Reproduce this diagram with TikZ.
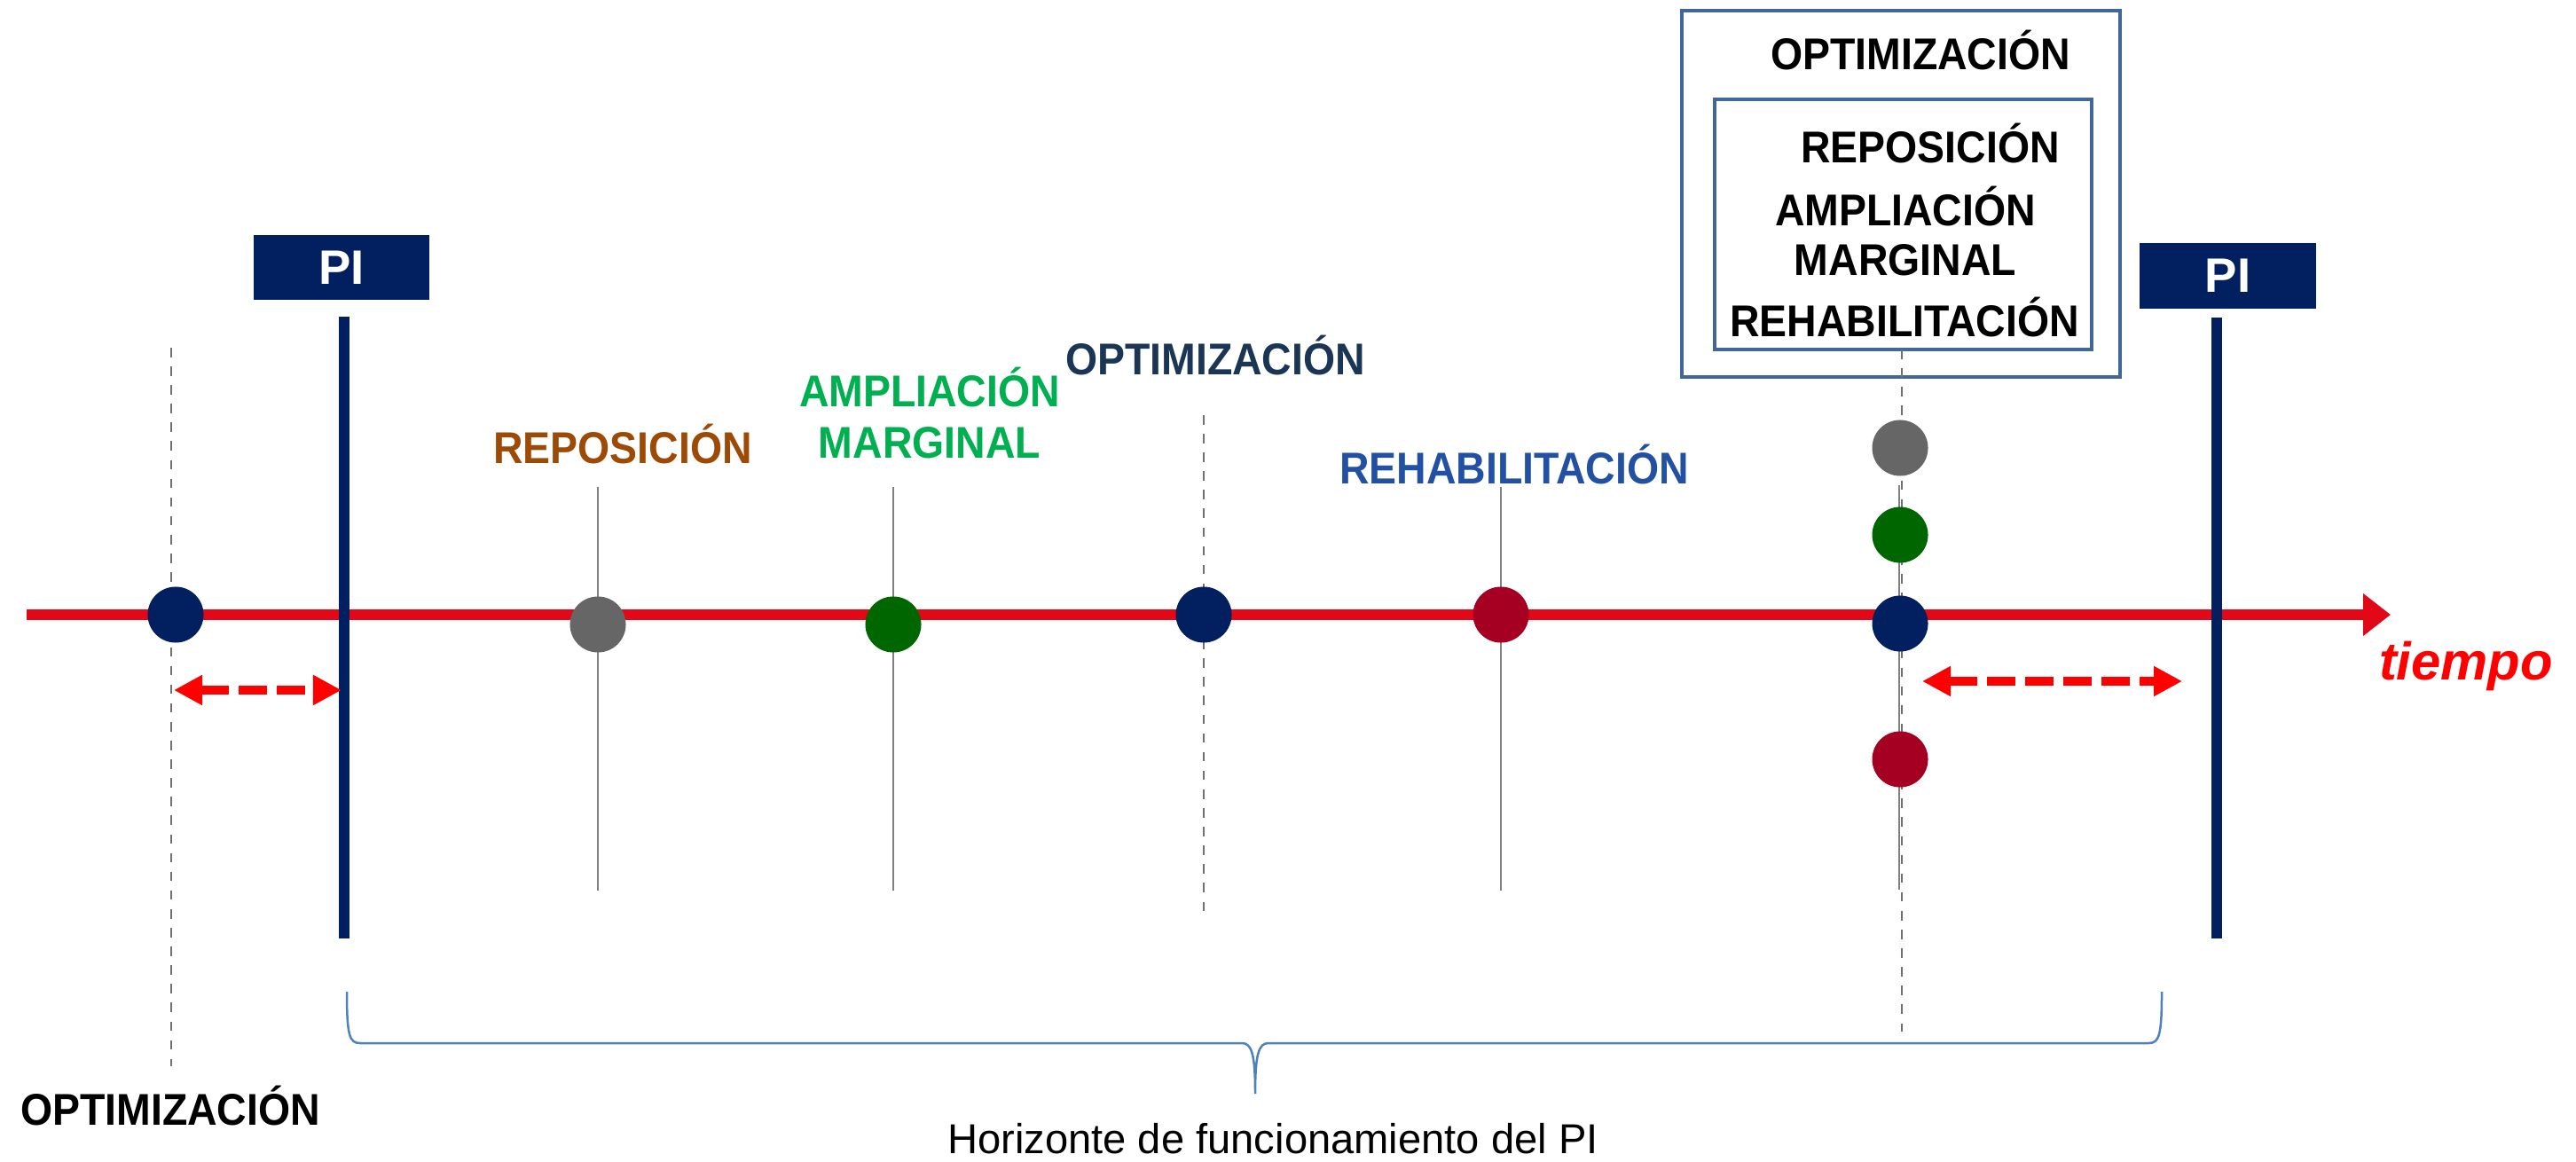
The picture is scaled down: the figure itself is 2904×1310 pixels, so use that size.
\documentclass[tikz,border=0pt]{standalone}
\usepackage{fontspec}
\setmainfont{Liberation Sans}
\usetikzlibrary{arrows.meta}
\definecolor{axisred}{RGB}{226,8,24}
\definecolor{navy}{RGB}{2,32,96}
\definecolor{dotgray}{RGB}{102,102,102}
\definecolor{dotgreen}{RGB}{0,102,0}
\definecolor{dotred}{RGB}{165,0,33}
\definecolor{txtbrown}{RGB}{156,74,6}
\definecolor{txtgreen}{RGB}{0,176,80}
\definecolor{txtnavy}{RGB}{27,54,84}
\definecolor{txtblue}{RGB}{34,80,162}
\definecolor{boxblue}{RGB}{65,103,154}
\definecolor{bracecol}{RGB}{79,129,189}
\definecolor{linegray}{RGB}{128,128,128}
\definecolor{dashgray}{RGB}{112,112,112}
\tikzset{
  lbl/.style={font=\fontsize{13.2pt}{15pt}\selectfont\bfseries, anchor=base, inner sep=0pt, yscale=1.08},
  dot/.style={circle, minimum size=0.63cm, inner sep=0pt},
  thinline/.style={draw=linegray, line width=0.02cm},
  dashline/.style={draw=dashgray, line width=0.02cm, dashed},
  pibox/.style={fill=navy, text=white, font=\fontsize{15.5pt}{18pt}\selectfont\bfseries, minimum width=1.98cm, minimum height=0.73cm, inner sep=0pt},
  piline/.style={draw=navy, line width=0.12cm},
  gaparrow/.style={draw=red, line width=0.1cm, dash pattern=on 0.32cm off 0.11cm, {Triangle[length=0.32cm,width=0.32cm]}-{Triangle[length=0.32cm,width=0.32cm]}},
  frame/.style={draw=boxblue, line width=0.04cm}
}
\begin{document}
\begin{tikzpicture}[x=0.01cm,y=-0.01cm]
\useasboundingbox (0,0) rectangle (2904,1310);

% outer and inner boxes
\draw[frame] (1896,12) rectangle (2390,425);
\draw[frame] (1933,112) rectangle (2358,394);
\node[lbl, text=black] (boxopt) at (2165,79) {OPTIMIZACIÓN};
\node[lbl, text=black] (boxrep) at (2176,184) {REPOSICIÓN};
\node[lbl, text=black] (boxamp) at (2148,255) {AMPLIACIÓN};
\node[lbl, text=black] (boxmar) at (2148,311) {MARGINAL};
\node[lbl, text=black] (boxreh) at (2147,380) {REHABILITACIÓN};

% vertical guide coordinates
\coordinate (l0t) at (193,392);   \coordinate (l0b) at (193,1202);
\coordinate (l1t) at (674,549);   \coordinate (l1b) at (674,1004);
\coordinate (l2t) at (1007,549);  \coordinate (l2b) at (1007,1004);
\coordinate (l3t) at (1357,468);  \coordinate (l3b) at (1357,1037);
\coordinate (l4t) at (1692,549);  \coordinate (l4b) at (1692,1004);
\coordinate (l5t) at (2144,394);  \coordinate (l5b) at (2144,1163);
\coordinate (l5st) at (2141,547); \coordinate (l5sb) at (2141,1003);

\draw[dashline] (l0t) -- (l0b);
\draw[thinline] (l1t) -- (l1b);
\draw[thinline] (l2t) -- (l2b);
\draw[dashline] (l3t) -- (l3b);
\draw[thinline] (l4t) -- (l4b);
\draw[thinline] (l5st) -- (l5sb);
\draw[dashline] (l5t) -- (l5b);

% time axis
\coordinate (axs) at (30,693);
\coordinate (axe) at (2695,693);
\draw[draw=axisred, line width=0.11cm, -{Triangle[length=0.31cm,width=0.46cm]}] (axs) -- (axe);
\node[font=\fontsize{17pt}{20pt}\selectfont\bfseries\itshape, text=red, anchor=base, inner sep=0pt] (tiempo) at (2780,767) {tiempo};

% PI boxes and lines
\node[pibox] (pi1) at (385,301.5) {PI};
\node[pibox] (pi2) at (2511.5,311) {PI};
\coordinate (p1t) at (388,357); \coordinate (p1b) at (388,1058);
\coordinate (p2t) at (2499,358); \coordinate (p2b) at (2499,1058);
\draw[piline] (p1t) -- (p1b);
\draw[piline] (p2t) -- (p2b);

% dots
\node[dot, fill=navy] (d0) at (198,693) {};
\node[dot, fill=dotgray] (d1) at (674,704) {};
\node[dot, fill=dotgreen] (d2) at (1007,704) {};
\node[dot, fill=navy] (d3) at (1357,693) {};
\node[dot, fill=dotred] (d4) at (1692,693) {};
\node[dot, fill=dotgray] (e1) at (2142,505) {};
\node[dot, fill=dotgreen] (e2) at (2142,603) {};
\node[dot, fill=navy] (e3) at (2142,703) {};
\node[dot, fill=dotred] (e4) at (2142,856) {};

% gap arrows
\coordinate (g1a) at (196,778); \coordinate (g1b) at (385,778);
\coordinate (g2a) at (2167,768); \coordinate (g2b) at (2460,768);
\draw[gaparrow] (g1a) -- (g1b);
\draw[gaparrow] (g2a) -- (g2b);

% labels
\node[lbl, text=txtbrown] (lrep) at (702,523) {REPOSICIÓN};
\node[lbl, text=txtgreen] (lamp) at (1048,459) {AMPLIACIÓN};
\node[lbl, text=txtgreen] (lmar) at (1048,517) {MARGINAL};
\node[lbl, text=txtnavy] (lopt) at (1370,423) {OPTIMIZACIÓN};
\node[lbl, text=txtblue] (lreh) at (1707,546) {REHABILITACIÓN};
\node[lbl, text=black] (lopt0) at (192,1268) {OPTIMIZACIÓN};

% brace
\coordinate (bl) at (391,1118);
\coordinate (br) at (2437,1118);
\coordinate (btip) at (1415,1233);
\draw[draw=bracecol, line width=0.025cm]
  (bl) .. controls (391,1168) and (394,1176) .. (406,1176) -- (1400,1176)
  .. controls (1411,1176) and (1415,1188) .. (btip)
  .. controls (1415,1188) and (1419,1176) .. (1430,1176) -- (2422,1176)
  .. controls (2434,1176) and (2437,1168) .. (br);
\node[font=\fontsize{13.4pt}{16pt}\selectfont, anchor=base, inner sep=0pt] (hor) at (1435,1300) {Horizonte de funcionamiento del PI};
\end{tikzpicture}
\end{document}
